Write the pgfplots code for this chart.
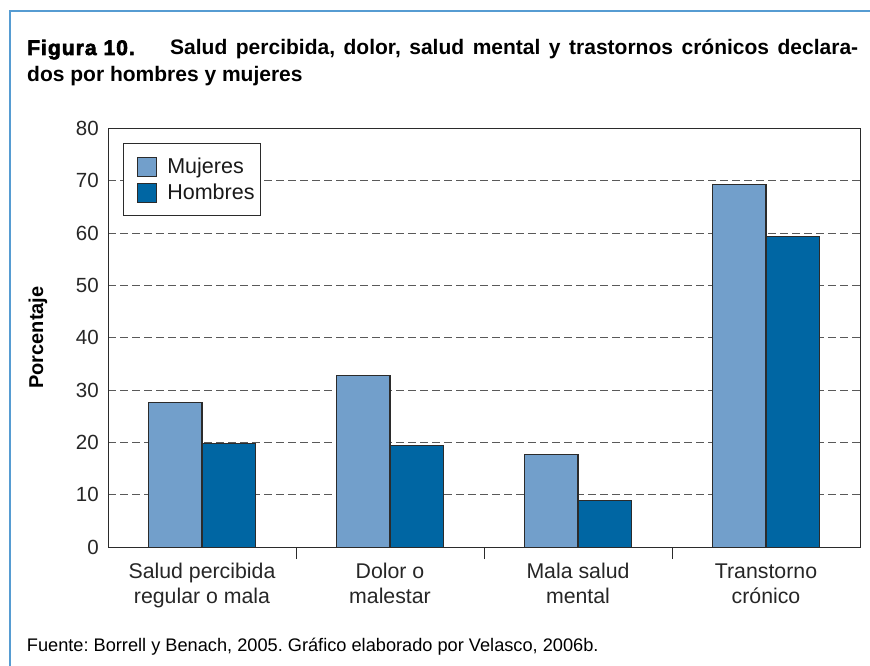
\documentclass[border=0pt]{standalone}
\usepackage{fontspec}
\setmainfont{Liberation Sans}
\newfontfamily\heavyfont[FakeBold=3,LetterSpace=5]{Liberation Sans Bold}
\usepackage{pgfplots}
\pgfplotsset{compat=1.18}
\definecolor{mujer}{HTML}{729FCB}
\definecolor{hombre}{HTML}{0066A3}
\definecolor{edge}{HTML}{2B2B2B}
\definecolor{frameblue}{RGB}{86,156,210}
\frenchspacing
\begin{document}
\begin{tikzpicture}
% frame lines
\draw[frameblue, line width=2pt] (9.5pt,-666pt) -- (9.5pt,-11pt) -- (870pt,-11pt);
% title
\node[anchor=base west, inner sep=0pt, font=\fontsize{21}{25}\selectfont]
  at (27pt,-55pt) {\heavyfont Figura 10.};
\node[anchor=base west, inner sep=0pt, font=\bfseries\fontsize{21}{25}\selectfont]
  at (170pt,-55pt) {\makebox[688pt][s]{Salud percibida, dolor, salud mental y trastornos crónicos declara-}};
\node[anchor=base west, inner sep=0pt, font=\bfseries\fontsize{21}{25}\selectfont]
  at (27pt,-81.7pt) {dos por hombres y mujeres};
% y label
\node[rotate=90, anchor=base, inner sep=0pt, font=\bfseries\fontsize{20}{24}\selectfont]
  at (43pt,-337.5pt) {Porcentaje};
% footer
\node[anchor=base west, inner sep=0pt, font=\fontsize{18.2}{22}\selectfont]
  at (26.7pt,-651.7pt) {Fuente: Borrell y Benach, 2005. Gráfico elaborado por Velasco, 2006b.};

\begin{axis}[
  at={(108pt,-547.3pt)}, anchor=south west,
  width=752pt, height=419pt, scale only axis,
  xmin=-0.5, xmax=3.5, ymin=0, ymax=80,
  ytick={0,10,...,80},
  xtick={0,1,2,3},
  xticklabels={{Salud percibida\\regular o mala},{Dolor o\\malestar},{Mala salud\\mental},{Transtorno\\crónico}},
  minor xtick={0.5,1.5,2.5},
  major tick length=0pt,
  minor tick length=11.7pt,
  tick align=inside,
  tick pos=left,
  minor tick style={line width=1pt, draw=edge},
  axis line style={line width=1pt, draw=edge},
  ymajorgrids,
  grid style={line width=1pt, draw=black!65, dash pattern=on 7.5pt off 4.5pt},
  /pgf/number format/assume math mode=true,
  yticklabel style={font=\fontsize{20.5}{24}\selectfont, inner sep=0pt, xshift=-9pt, text=black!85},
  xticklabel style={font=\fontsize{21.3}{25}\selectfont, align=center, inner sep=0pt, yshift=-16pt, text=black!85},
  ybar, bar width=0.285,
  legend style={at={(0.01995,0.9642)}, anchor=north west,
    draw=edge, line width=1pt,
    inner xsep=6pt, inner ysep=13pt,
    font=\fontsize{21.5}{25}\selectfont,
    row sep=6pt,
    nodes={inner sep=0pt, text=black!90},
    /tikz/every odd column/.append style={column sep=10.7pt}},
  legend cell align=left,
  legend image code/.code={\path (0pt,0pt); \draw[#1, line width=1pt] (7pt,-9.5pt) rectangle (26pt,9.5pt);},
]
\addplot[fill=mujer, draw=edge, line width=1.2pt, bar shift=-0.1425] coordinates {
  (0,27.7) (1,32.8) (2,17.7) (3,69.3)};
\addplot[fill=hombre, draw=edge, line width=1.2pt, bar shift=0.1425] coordinates {
  (0,19.8) (1,19.5) (2,9.0) (3,59.3)};
\legend{Mujeres,Hombres}
\end{axis}
\pgfresetboundingbox
\useasboundingbox (0,0) rectangle (870pt,-666pt);
\end{tikzpicture}
\end{document}
